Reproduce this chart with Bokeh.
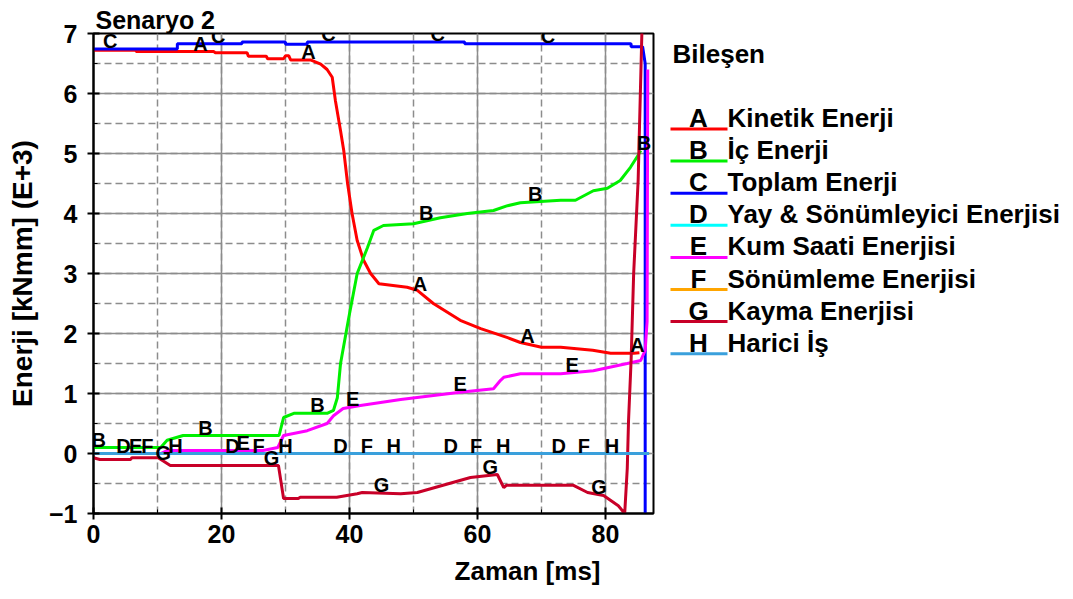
import numpy as np
from bokeh.plotting import figure
from bokeh.models import Range1d, SingleIntervalTicker, Title, LabelSet, ColumnDataSource
from bokeh.layouts import row
from bokeh.embed import file_html
from bokeh.resources import INLINE
from bokeh.core.properties import value

# ---------------- data ----------------
title_text = "Senaryo 2"
x_label = "Zaman [ms]"
y_label = "Enerji [kNmm] (E+3)"
legend_title = "Bileşen"

keys = ["A", "B", "C", "D", "E", "F", "G", "H"]
names = ["Kinetik Enerji", "İç Enerji", "Toplam Enerji", "Yay & Sönümleyici Enerjisi",
         "Kum Saati Enerjisi", "Sönümleme Enerjisi", "Kayma Enerjisi", "Harici İş"]
colors = ["#ff0000", "#00f000", "#0000ff", "#00ffff",
          "#ff00ff", "#ffa500", "#c80028", "#3aa0dc"]

a_x = [0, 6.6, 6.7, 18.8, 19, 24, 24.2, 27, 27.2, 29.7, 30, 30.5, 30.8, 33.9, 35.5, 36.5, 37.3,
       37.8, 38.6, 39.1, 39.7, 40.4, 41.2, 42.2, 43.3, 44.6, 49, 50.6, 53.1, 57.3, 60.5, 64.7,
       66.7, 70, 73, 78, 80.8, 84.4, 85.3]
a_y = [6.72, 6.72, 6.70, 6.70, 6.68, 6.68, 6.62, 6.62, 6.58, 6.58, 6.63, 6.63, 6.56, 6.56, 6.49,
       6.4, 6.27, 5.88, 5.38, 5.05, 4.5, 4.0, 3.55, 3.22, 3.0, 2.83, 2.77, 2.72, 2.5, 2.22, 2.08,
       1.93, 1.85, 1.77, 1.77, 1.72, 1.67, 1.67, 1.68]

b_x = [0, 10.5, 11.5, 14, 29, 29.7, 31.3, 36.5, 37.5, 38.1, 38.6, 39.9, 41.2, 42.8, 43.8, 45.3,
       50, 54.2, 58.4, 62.5, 64.7, 66.7, 73, 75.3, 78.1, 80.3, 82.3, 83.9, 85.1, 85.5]
b_y = [0.1, 0.1, 0.22, 0.3, 0.3, 0.6, 0.67, 0.67, 0.72, 0.93, 1.5, 2.27, 3.0, 3.43, 3.72, 3.8,
       3.83, 3.93, 4.0, 4.05, 4.13, 4.18, 4.22, 4.22, 4.38, 4.42, 4.55, 4.77, 4.97, 5.05]

c_x = [0, 13.1, 13.1, 23.2, 23.2, 30, 30, 33.4, 33.4, 58, 58, 84, 84, 85.8, 86.2, 86.2]
c_y = [6.74, 6.74, 6.83, 6.83, 6.86, 6.86, 6.82, 6.82, 6.86, 6.86, 6.83, 6.83, 6.78, 6.78, 6.5, -1.05]

d_x = [0, 86.6]
d_y = [0, 0]

e_x = [0, 10.5, 11.5, 26.5, 28.8, 29.7, 33.4, 36.5, 37.5, 39, 41.7, 48, 57.3, 62.5, 63.6, 64.1,
       66.7, 73, 78.1, 83.4, 85.5, 86.2, 86.5, 86.6]
e_y = [0, 0, 0.05, 0.05, 0.1, 0.3, 0.38, 0.5, 0.63, 0.75, 0.8, 0.9, 1.02, 1.08, 1.22, 1.27,
       1.33, 1.33, 1.38, 1.5, 1.55, 1.72, 2.2, 6.4]

f_x = [0, 86.6]
f_y = [0, 0]

g_x = [0, 1, 5.8, 6, 10.1, 12, 28.9, 29.7, 32, 32.3, 38, 41.2, 42, 48, 50.6, 58.9, 63.1, 64.1,
       64.5, 75, 77.2, 79.7, 82, 83, 83.4, 83.6, 84.0, 84.4, 85.1, 85.8]
g_y = [-0.07, -0.1, -0.1, -0.07, -0.07, -0.2, -0.2, -0.75, -0.75, -0.73, -0.73, -0.67, -0.65,
       -0.67, -0.65, -0.4, -0.35, -0.57, -0.53, -0.53, -0.65, -0.7, -0.87, -1.0, -0.25, 0.55,
       1.55, 3.0, 4.55, 7.5]

h_x = [0, 86.8]
h_y = [0, 0]

# x positions of the letter markers on each curve
a_lab = [16.7, 33.6, 51.0, 67.8, 85.0]
b_lab = [0.8, 17.5, 35.0, 52.0, 69.0, 86.0]
c_lab = [2.6, 19.5, 36.7, 53.8, 71.0]
d_lab = [4.7, 21.7, 38.6, 55.8, 72.7]
e_lab = [6.6, 23.4, 40.5, 57.3, 74.8]
f_lab = [8.4, 25.8, 42.7, 59.8, 76.6]
g_lab = [10.9, 27.8, 45.0, 62.0, 79.0]
h_lab = [12.8, 30.0, 46.9, 64.0, 81.0]

series_x = [a_x, b_x, c_x, d_x, e_x, f_x, g_x, h_x]
series_y = [a_y, b_y, c_y, d_y, e_y, f_y, g_y, h_y]
series_lab = [a_lab, b_lab, c_lab, d_lab, e_lab, f_lab, g_lab, h_lab]

x_start, x_end = 0, 87.5
y_start, y_end = -1, 7

# ---------------- style ----------------
FONT = "Liberation Sans"
FS = "25px"
TOP, BOTTOM = 33, 86

p = figure(width=660, height=599, output_backend="svg", toolbar_location=None,
           x_range=Range1d(x_start, x_end), y_range=Range1d(y_start, y_end),
           min_border_left=93, min_border_right=7, min_border_top=TOP, min_border_bottom=BOTTOM)
p.background_fill_color = "white"
p.border_fill_color = "white"
p.outline_line_color = "black"
p.outline_line_width = 2

p.title.text = title_text
p.title.text_font = FONT
p.title.text_font_size = FS
p.title.text_font_style = "bold"
p.title.text_color = "black"
p.title.align = "left"
p.title.offset = 2
p.title.standoff = 0

p.xaxis.ticker = SingleIntervalTicker(interval=20, num_minor_ticks=2)
p.yaxis.ticker = SingleIntervalTicker(interval=1, num_minor_ticks=2)
for ax in (p.xaxis, p.yaxis):
    ax.axis_line_color = "black"
    ax.axis_line_width = 2
    ax.major_tick_line_color = "black"
    ax.major_tick_line_width = 2
    ax.major_tick_in = 6
    ax.major_tick_out = 6
    ax.minor_tick_line_color = "black"
    ax.minor_tick_line_width = 1
    ax.minor_tick_in = 4
    ax.minor_tick_out = 0
    ax.major_label_text_font = FONT
    ax.major_label_text_font_size = FS
    ax.major_label_text_font_style = "bold"
    ax.major_label_text_color = "black"
p.xaxis.major_label_standoff = 5
p.yaxis.major_label_standoff = 10
p.yaxis.axis_label = y_label
p.yaxis.axis_label_text_font = FONT
p.yaxis.axis_label_text_font_size = "28px"
p.yaxis.axis_label_text_font_style = "bold"
p.yaxis.axis_label_text_color = "black"
p.yaxis.axis_label_standoff = 8

xt = Title(text=x_label, align="right", offset=53, text_font=FONT, text_font_size="26px",
           text_font_style="bold", text_color="black", standoff=16)
p.add_layout(xt, "below")

for g in (p.xgrid, p.ygrid):
    g.grid_line_color = "#8c8c8c"
    g.grid_line_width = 1.5
    g.minor_grid_line_color = "#8c8c8c"
    g.minor_grid_line_width = 1.5
    g.minor_grid_line_dash = "7 4"

for sx, sy, col in zip(series_x, series_y, colors):
    p.line(sx, sy, line_color=col, line_width=3)

lx, ly, lt = [], [], []
for sx, sy, lab, k in zip(series_x, series_y, series_lab, keys):
    lx += list(lab)
    ly += list(np.interp(lab, sx, sy))
    lt += [k] * len(lab)
lab_src = ColumnDataSource(dict(x=lx, y=ly, t=lt))
p.add_layout(LabelSet(x="x", y="y", text="t", source=lab_src, text_align="center",
                      text_baseline="bottom", y_offset=-3, text_font=value(FONT),
                      text_font_size=value("20px"), text_font_style=value("bold"),
                      text_color=value("black")))

# ---------------- legend panel (coordinates are pixels of the window) ----------------
LFS = "26px"
leg = figure(width=413, height=599, output_backend="svg", toolbar_location=None,
             x_range=Range1d(0, 413), y_range=Range1d(599 - BOTTOM, TOP),
             x_axis_type=None, y_axis_type=None, title=None,
             min_border_left=0, min_border_right=0,
             min_border_top=TOP, min_border_bottom=BOTTOM)
leg.grid.visible = False
leg.outline_line_color = None
leg.background_fill_color = "white"
leg.border_fill_color = "white"

DESC = 5.5
leg.text(x=[12], y=[63 + DESC], text=[legend_title], text_font=value(FONT), text_font_size=LFS,
         text_font_style="bold", text_color="black", text_baseline="bottom")
row_base = [127 + 32.1 * i for i in range(len(keys))]
leg.segment(x0=[10] * len(keys), y0=[b + 1.5 for b in row_base], x1=[67] * len(keys),
            y1=[b + 1.5 for b in row_base], line_color=colors, line_width=3)
leg.text(x=[38] * len(keys), y=[b + DESC for b in row_base], text=keys, text_align="center",
         text_baseline="bottom", text_font=value(FONT), text_font_size=LFS,
         text_font_style="bold", text_color="black")
leg.text(x=[67] * len(keys), y=[b + DESC for b in row_base], text=names, text_align="left",
         text_baseline="bottom", text_font=value(FONT), text_font_size=LFS,
         text_font_style="bold", text_color="black")

layout = row(p, leg)
open("out.html", "w").write(file_html(layout, INLINE))
